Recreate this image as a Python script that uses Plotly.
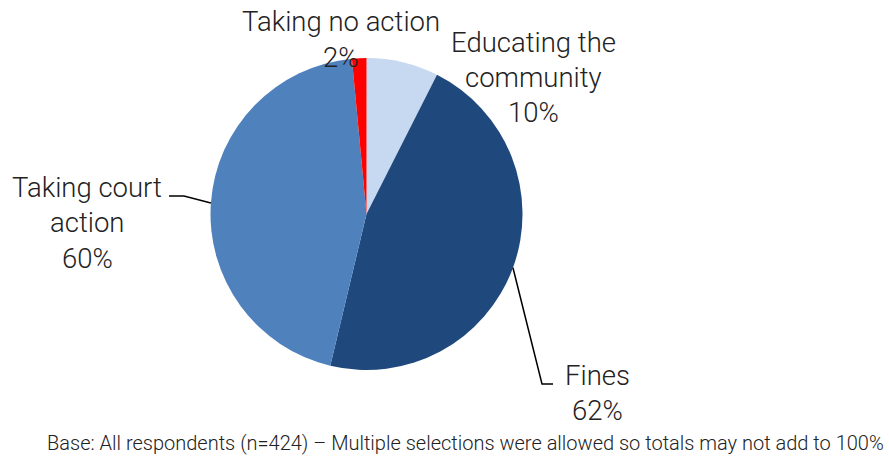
import math
import plotly.graph_objects as go

# Chart data
categories = ["Educating the community", "Fines", "Taking court action", "Taking no action"]
values = [10, 62, 60, 2]
label_lines = [["Educating the", "community"], ["Fines"], ["Taking court", "action"], ["Taking no action"]]
colors = ["#C6D9F1", "#1F497D", "#4F81BD", "#FF0000"]
footnote = "Base: All respondents (n=424) \u2013 Multiple selections were allowed so totals may not add to 100%"

W, H = 889, 459
cx, cy, r = 366.5, 214.0, 156.0  # pie centre and radius in pixels (from top-left)

FONT = "Roboto"
TEXT_COLOR = "#222222"


def px(x):
    return x / W


def py(y):
    return 1 - y / H


fig = go.Figure(
    go.Pie(
        labels=categories,
        values=values,
        sort=False,
        direction="clockwise",
        rotation=0,
        marker=dict(colors=colors, line=dict(width=0)),
        textinfo="none",
        hoverinfo="label+value",
        domain=dict(x=[px(cx - r), px(cx + r)], y=[py(cy + r), py(cy - r)]),
        showlegend=False,
    )
)

# Mid-angle of each slice (degrees clockwise from 12 o'clock)
total = sum(values)
mids = []
acc = 0.0
for v in values:
    ang = 360.0 * v / total
    mids.append(acc + ang / 2)
    acc += ang


def edge_point(deg):
    a = math.radians(deg)
    return cx + r * math.sin(a), cy - r * math.cos(a)


# Label placement: (centre x, top line y) in pixels, and leader line elbow
label_pos = {
    0: (533, 42),
    1: (597, 375),
    2: (87, 187),
    3: (341, 22),
}
leaders = {
    1: [(542, 384), (553, 384)],
    2: [(184, 196), (169, 196)],
}

line_h = 35.5
for i, lines in enumerate(label_lines):
    x0, y0 = label_pos[i]
    texts = lines + [f"{values[i]}%"]
    for k, t in enumerate(texts):
        fig.add_annotation(
            x=px(x0), y=py(y0 + k * line_h), xref="paper", yref="paper",
            text=t, showarrow=False, xanchor="center", yanchor="middle",
            font=dict(family=FONT, size=27.5, color=TEXT_COLOR, weight=300),
        )

for i, pts in leaders.items():
    sx, sy = edge_point(mids[i])
    path_pts = [(sx, sy)] + pts
    d = "M " + " L ".join(f"{px(x)},{py(y)}" for x, y in path_pts)
    fig.add_shape(type="path", path=d, xref="paper", yref="paper",
                  line=dict(color="black", width=1.5))

fig.add_annotation(
    x=px(886), y=py(443), xref="paper", yref="paper", text=footnote,
    showarrow=False, xanchor="right", yanchor="middle",
    font=dict(family=FONT, size=20, color=TEXT_COLOR, weight=300),
)

fig.update_layout(
    width=W, height=H, margin=dict(l=0, r=0, t=0, b=0),
    paper_bgcolor="white", plot_bgcolor="white",
)

fig.write_html("out.html")
